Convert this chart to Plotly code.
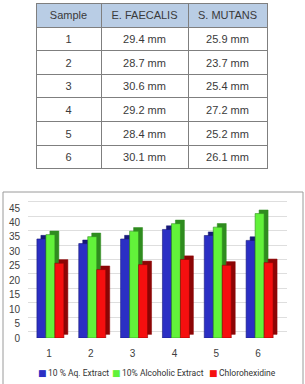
import plotly.graph_objects as go

# ---- table data ----
table_header = ["Sample", "E. FAECALIS", "S. MUTANS"]
samples = ["1", "2", "3", "4", "5", "6"]
e_faecalis = ["29.4 mm", "28.7 mm", "30.6 mm", "29.2 mm", "28.4 mm", "30.1 mm"]
s_mutans = ["25.9 mm", "23.7 mm", "25.4 mm", "27.2 mm", "25.2 mm", "26.1 mm"]

# ---- bar chart data ----
categories = [1, 2, 3, 4, 5, 6]
category_labels = ["1", "2", "3", "4", "5", "6"]
aq_extract = [34.3, 32.7, 34.3, 37.6, 35.5, 33.8]
alc_extract = [35.8, 35.1, 37.0, 39.6, 38.4, 43.1]
chlorhexidine = [25.9, 23.7, 25.4, 27.2, 25.2, 26.1]
series_names = ["10 % Aq. Extract", "10% Alcoholic Extract", "Chlorohexidine"]
y_ticks = [0, 5, 10, 15, 20, 25, 30, 35, 40, 45]

W, H = 305, 384
front_colors = ["#2b2fc4", "#62f23a", "#f50f0f"]
side_colors = ["#17197a", "#2f8c1f", "#8c0505"]
offsets = [-0.287, -0.072, 0.143]
bar_w = 0.215
depth_x = 0.095
depth_y = 1.25
FONT = "Liberation Sans, Arial"
LEG_FONT = "Roboto, Arial"

fig = go.Figure()

# table
fig.add_trace(go.Table(
    domain=dict(x=[36 / W, 267 / W], y=[1 - 180 / H, 1 - 3 / H]),
    columnwidth=[65, 87, 79],
    header=dict(values=table_header, fill_color="#b9cde5", height=24,
                line=dict(color="#7f7f7f", width=1), align="center",
                font=dict(family=FONT, size=11, color="#3a3a3a")),
    cells=dict(values=[samples, e_faecalis, s_mutans], fill_color="white", height=23.6,
               line=dict(color="#7f7f7f", width=1), align="center",
               font=dict(family=FONT, size=11, color="#3a3a3a")),
))

series = [aq_extract, alc_extract, chlorhexidine]

# 3D side/top faces (behind)
for vals, off, sc in zip(series, offsets, side_colors):
    fig.add_trace(go.Bar(x=categories, y=vals, base=depth_y, offset=off + depth_x, width=bar_w,
                         marker=dict(color=sc, line=dict(color=sc, width=0.5)),
                         showlegend=False, hoverinfo="skip"))

# front faces
for vals, off, fc, sc, name in zip(series, offsets, front_colors, side_colors, series_names):
    fig.add_trace(go.Bar(x=categories, y=vals, offset=off, width=bar_w, name=name,
                         showlegend=False,
                         marker=dict(color=fc, line=dict(color=sc, width=0.6))))

# invisible trace to bind back-wall grid axis
fig.add_trace(go.Scatter(x=categories, y=aq_extract, yaxis="y2", mode="markers",
                         marker=dict(opacity=0), showlegend=False, hoverinfo="skip"))

# legend (as coloured squares + text entries)
legend_x = [36, 110, 207]
annotations = []
for lx, name, fc in zip(legend_x, series_names, front_colors):
    annotations.append(dict(
        xref="paper", yref="paper", x=lx / W, y=1 - 373 / H, xanchor="left", yanchor="middle",
        showarrow=False, text="■", font=dict(family="DejaVu Sans", size=9, color=fc)))
    annotations.append(dict(
        xref="paper", yref="paper", x=(lx + 10) / W, y=1 - 373 / H, xanchor="left",
        yanchor="middle", showarrow=False, text=name,
        font=dict(family=LEG_FONT, size=8.5, color="#333333")))

yr = 47.8
shift = 2.2
fig.update_layout(
    width=W, height=H,
    margin=dict(l=0, r=0, t=0, b=0),
    paper_bgcolor="white", plot_bgcolor="white",
    barmode="overlay",
    showlegend=False,
    xaxis=dict(domain=[28 / W, 287 / W], range=[0.5, 6.69], tickvals=categories,
               ticktext=category_labels, showgrid=False, zeroline=False, showline=False,
               ticks="", ticklabelstandoff=8, automargin=False,
               tickfont=dict(family=FONT, size=10, color="#404040")),
    yaxis=dict(domain=[(H - 338) / H, (H - 200) / H], range=[0, yr], tickvals=y_ticks,
               showgrid=False, zeroline=False, showline=False, ticks="",
               ticklabelstandoff=7, automargin=False,
               tickfont=dict(family=FONT, size=10, color="#404040")),
    yaxis2=dict(overlaying="y", range=[-shift, yr - shift], tickvals=y_ticks,
                showticklabels=False, showgrid=True, gridcolor="#dedede", gridwidth=1,
                zeroline=False, showline=False, ticks=""),
    annotations=annotations,
    shapes=[dict(type="rect", xref="paper", yref="paper", x0=3 / W, x1=303 / W,
                 y0=-0.02, y1=1 - 192 / H, line=dict(color="#9a9a9a", width=1),
                 fillcolor="rgba(0,0,0,0)", layer="below")],
)

fig.write_html("out.html")
